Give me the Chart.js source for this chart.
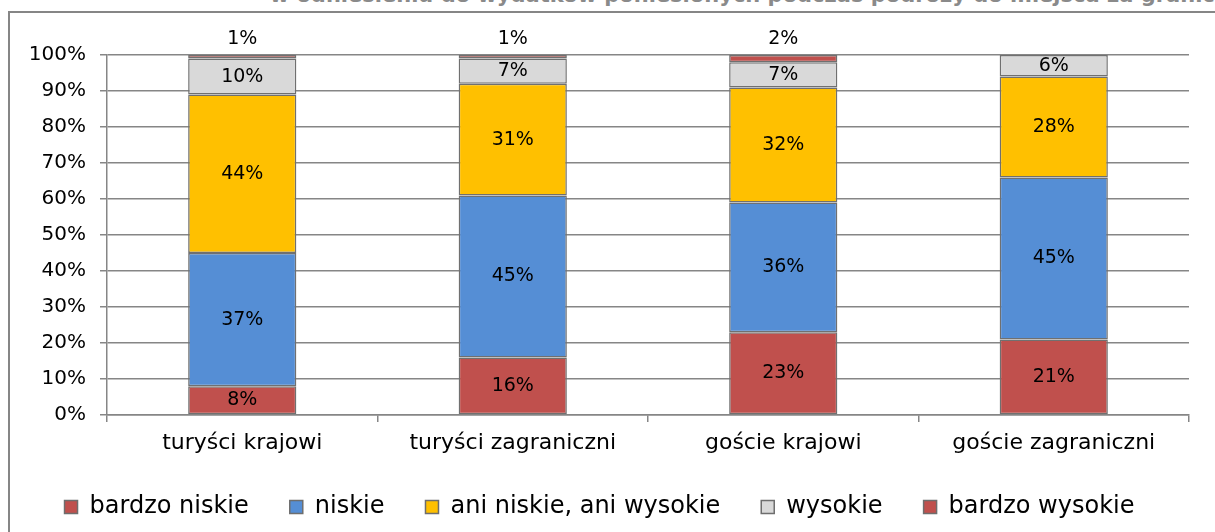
<!DOCTYPE html>
<html lang="pl">
<head>
<meta charset="utf-8">
<script src="https://cdn.jsdelivr.net/npm/chart.js@4"></script>
<style>
  html, body { margin: 0; padding: 0; background: #fff; overflow: hidden; }
  #wrap { position: relative; width: 1215px; height: 532px; }
  #frame {
    position: absolute; left: 8px; top: 11px; width: 1300px; height: 600px;
    border-left: 2px solid #868686; border-top: 2px solid #868686;
  }
  #caption {
    position: absolute; top: -17px; right: -14px; white-space: nowrap;
    font: bold 21px "DejaVu Sans", sans-serif; color: #8a8a8a;
  }
  canvas { position: absolute; left: 0; top: 0; }
</style>
</head>
<body>
<div id="wrap">
  <div id="caption">w odniesieniu do wydatków poniesionych podczas podróży do miejsca za granicą</div>
  <div id="frame"></div>
  <canvas id="chart" width="1215" height="532"></canvas>
</div>
<script>
/* -------------------------------
   DANE
--------------------------------*/
const categories = ["turyści krajowi", "turyści zagraniczni", "goście krajowi", "goście zagraniczni"];

const bardzoNiskie  = [8, 16, 23, 21];
const niskie        = [37, 45, 36, 45];
const aniNiskie     = [44, 31, 32, 28];
const wysokie       = [10, 7, 7, 6];
const bardzoWysokie = [1, 1, 2, 0];

const yTicks = [0, 10, 20, 30, 40, 50, 60, 70, 80, 90, 100];

const FONT = "DejaVu Sans";
const GRID = "#868686";

/* -------------------------------
   ETYKIETY WARTOŚCI
--------------------------------*/
const valueLabels = {
  id: "valueLabels",
  afterDatasetsDraw(chart) {
    const ctx = chart.ctx;
    ctx.save();
    ctx.font = "19px " + FONT;
    ctx.fillStyle = "#000";
    ctx.textAlign = "center";
    ctx.textBaseline = "middle";
    chart.data.datasets.forEach((ds, i) => {
      const meta = chart.getDatasetMeta(i);
      meta.data.forEach((bar, j) => {
        const v = ds.data[j];
        if (!v) return;
        let y = (bar.y + bar.base) / 2;
        // cienkie segmenty - podpis nad słupkiem
        if (v <= 2) y = bar.y - 16;
        ctx.fillText(v + "%", bar.x, y);
      });
    });
    ctx.restore();
  }
};

// legenda: duże odstępy między pozycjami, ale niska i podciągnięta w górę
const legendBox = {
  id: "legendBox",
  afterInit(chart) {
    const legend = chart.legend;
    const fit = legend.fit;
    legend.fit = function () {
      fit.call(this);
      this.height = 60;
    };
  },
  afterLayout(chart) {
    const legend = chart.legend;
    legend.top = 454;
    legend.height = 78;
    legend.bottom = 532;
  }
};

/* -------------------------------
   WYKRES
--------------------------------*/
function makeSet(label, data, color) {
  return {
    label, data,
    backgroundColor: color,
    borderColor: "#707070",
    borderWidth: 1.5,
    borderSkipped: false,
    barPercentage: 0.4,
    categoryPercentage: 1
  };
}

new Chart(document.getElementById("chart"), {
  type: "bar",
  data: {
    labels: categories,
    datasets: [
      makeSet("bardzo niskie", bardzoNiskie, "#C0504D"),
      makeSet("niskie", niskie, "#558ED5"),
      makeSet("ani niskie, ani wysokie", aniNiskie, "#FFC000"),
      makeSet("wysokie", wysokie, "#D9D9D9"),
      makeSet("bardzo wysokie", bardzoWysokie, "#C0504D")
    ]
  },
  options: {
    responsive: false,
    animation: false,
    layout: { padding: { left: 10, top: 55, right: 26, bottom: 8 } },
    scales: {
      x: {
        stacked: true,
        grid: { drawOnChartArea: false, drawTicks: true, tickLength: 7, color: GRID, offset: true, lineWidth: 1.5 },
        border: { color: GRID, width: 1.5 },
        ticks: { color: "#000", font: { family: FONT, size: 22 }, padding: 8 },
        afterFit(scale) { scale.height = 49; }
      },
      y: {
        stacked: true,
        min: 0, max: 100,
        afterBuildTicks(scale) { scale.ticks = yTicks.map(v => ({ value: v })); },
        grid: { color: GRID, lineWidth: 1.5, tickLength: 7 },
        border: { color: GRID, width: 1.5 },
        ticks: {
          color: "#000", font: { family: FONT, size: 20 }, padding: 14,
          callback: v => v + "%"
        },
        afterFit(scale) { scale.width = 97; }
      }
    },
    plugins: {
      legend: {
        position: "bottom",
        labels: {
          color: "#000",
          font: { family: FONT, size: 24 },
          boxWidth: 13, boxHeight: 13,
          padding: 41,
          generateLabels(chart) {
            return chart.data.datasets.map((ds, i) => ({
              text: ds.label,
              fillStyle: ds.backgroundColor,
              strokeStyle: "#6e6e6e",
              lineWidth: 1.5,
              datasetIndex: i,
              hidden: false
            }));
          }
        }
      },
      tooltip: { enabled: false }
    }
  },
  plugins: [valueLabels, legendBox]
});
</script>
</body>
</html>
